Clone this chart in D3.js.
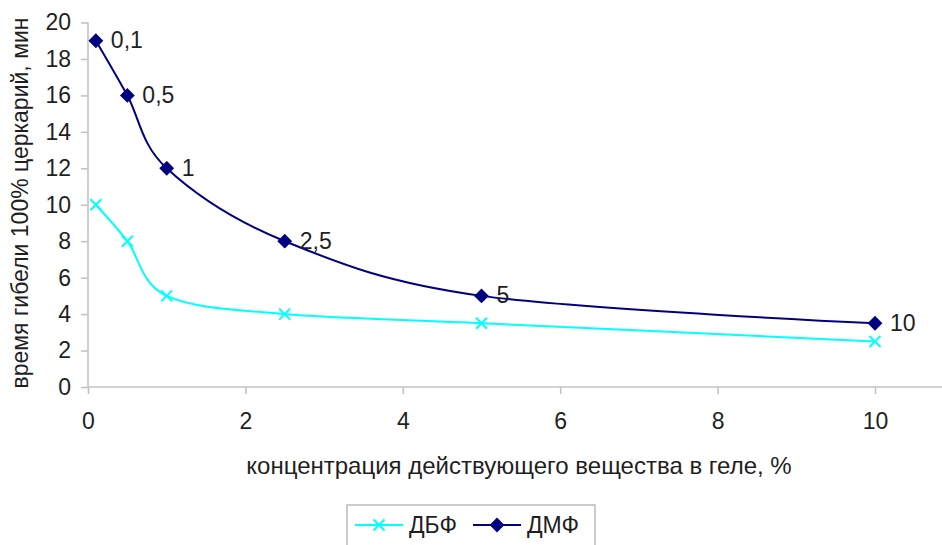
<!DOCTYPE html>
<html>
<head>
<meta charset="utf-8">
<script src="https://cdn.jsdelivr.net/npm/d3@7"></script>
<style>
  body { margin: 0; background: #fff; }
  svg { display: block; font-family: "Liberation Sans", Arial, sans-serif; }
</style>
</head>
<body>
<svg id="chart" width="942" height="545"></svg>
<script>
// Данные
const concentrations = [0.1, 0.5, 1, 2.5, 5, 10];
const dbfValues = [10, 8, 5, 4, 3.5, 2.5];
const dmfValues = [19, 16, 12, 8, 5, 3.5];
const pointLabels = ["0,1", "0,5", "1", "2,5", "5", "10"];
const xTicks = [0, 2, 4, 6, 8, 10];
const yTicks = [0, 2, 4, 6, 8, 10, 12, 14, 16, 18, 20];

const svg = d3.select("#chart");
const W = +svg.attr("width");
const textColor = "#1f1f1f";
const axisColor = "#c3c3c3";
const fontSize = "23px";

// Шкалы
const x = d3.scaleLinear().domain([0, 10]).range([88, 875]);
const y = d3.scaleLinear().domain([0, 20]).range([387, 22.5]);

// Ось Y
const yAxis = svg.append("g")
    .attr("transform", `translate(${x(0)},0)`)
    .call(d3.axisLeft(y).tickValues(yTicks).tickSize(7).tickPadding(10));
yAxis.select(".domain").remove();
yAxis.append("line")
    .attr("x1", 0).attr("x2", 0)
    .attr("y1", y(0)).attr("y2", y(20));

// Ось X
const xAxis = svg.append("g")
    .attr("transform", `translate(0,${y(0)})`)
    .call(d3.axisBottom(x).tickValues(xTicks).tickSize(7).tickPadding(19));
xAxis.select(".domain").remove();
xAxis.append("line")
    .attr("x1", x(0)).attr("x2", W)
    .attr("y1", 0).attr("y2", 0);

svg.selectAll(".tick line, g > line")
    .attr("stroke", axisColor)
    .attr("stroke-width", 1.6);
svg.selectAll(".tick text")
    .attr("fill", textColor)
    .style("font-size", fontSize);

// Линии
const series = [
    { name: "ДБФ", values: dbfValues, color: "#00ffff", marker: "x" },
    { name: "ДМФ", values: dmfValues, color: "#000080", marker: "diamond" }
];

const line = d3.line()
    .x(d => x(d[0]))
    .y(d => y(d[1]))
    .curve(d3.curveCatmullRom.alpha(0));

const crossPath = "M-5.5,-5.5L5.5,5.5M-5.5,5.5L5.5,-5.5";
const diamondPath = "M0,-6L6,0L0,6L-6,0Z";

series.forEach(s => {
    const pts = concentrations.map((c, i) => [c, s.values[i]]);
    svg.append("path")
        .datum(pts)
        .attr("fill", "none")
        .attr("stroke", s.color)
        .attr("stroke-width", 2)
        .attr("d", line);

    svg.selectAll(null)
        .data(pts)
        .enter()
        .append("path")
        .attr("transform", d => `translate(${x(d[0])},${y(d[1])})`)
        .attr("d", s.marker === "x" ? crossPath : diamondPath)
        .attr("fill", s.marker === "x" ? "none" : s.color)
        .attr("stroke", s.color)
        .attr("stroke-width", 2);
});

// Подписи точек ДМФ
svg.selectAll(".pt-label")
    .data(concentrations)
    .enter()
    .append("text")
    .attr("x", d => x(d) + 15)
    .attr("y", (d, i) => y(dmfValues[i]))
    .attr("dy", "0.33em")
    .attr("fill", textColor)
    .style("font-size", fontSize)
    .text((d, i) => pointLabels[i]);

// Подписи осей
svg.append("text")
    .attr("text-anchor", "middle")
    .attr("x", 519)
    .attr("y", 474)
    .attr("fill", textColor)
    .style("font-size", "24px")
    .text("концентрация действующего вещества в геле, %");

svg.append("text")
    .attr("text-anchor", "middle")
    .attr("transform", "rotate(-90)")
    .attr("x", -203)
    .attr("y", 28)
    .attr("fill", textColor)
    .style("font-size", fontSize)
    .text("время гибели 100% церкарий, мин");

// Легенда
const legend = svg.append("g");
legend.append("rect")
    .attr("x", 347).attr("y", 505)
    .attr("width", 248).attr("height", 60)
    .attr("fill", "none")
    .attr("stroke", "#a8a8a8")
    .attr("stroke-width", 1.2);

const legendX = [355, 473];
series.forEach((s, i) => {
    const g = legend.append("g").attr("transform", `translate(${legendX[i]},525)`);
    g.append("line")
        .attr("x1", 0).attr("x2", 48)
        .attr("stroke", s.color)
        .attr("stroke-width", 2);
    g.append("path")
        .attr("transform", "translate(24,0)")
        .attr("d", s.marker === "x" ? crossPath : diamondPath)
        .attr("fill", s.marker === "x" ? "none" : s.color)
        .attr("stroke", s.color)
        .attr("stroke-width", 2);
    g.append("text")
        .attr("x", 54)
        .attr("dy", "0.35em")
        .attr("fill", textColor)
        .style("font-size", fontSize)
        .text(s.name);
});
</script>
</body>
</html>
